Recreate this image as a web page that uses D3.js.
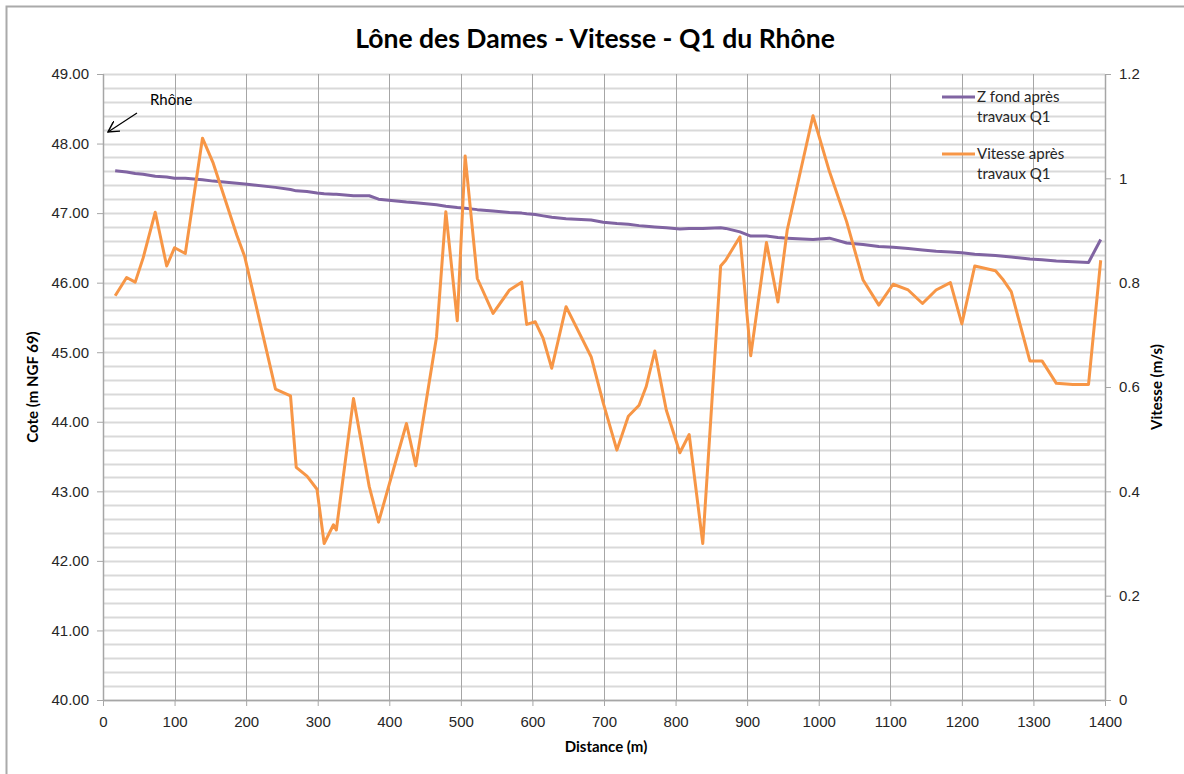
<!DOCTYPE html>
<html>
<head>
<meta charset="utf-8">
<script src="https://cdn.jsdelivr.net/npm/d3@7"></script>
<style>
  body { margin: 0; background: #fff; }
  svg { font-family: Lato, "Open Sans", sans-serif; }
</style>
</head>
<body>
<div id="container"></div>
<script>
// distances (m) along the profile
const distance = [17, 33, 45, 56, 73, 89, 100, 115, 139, 154, 187, 198, 241, 262, 270, 285, 299, 309, 322, 326,
    350, 372, 385, 424, 437, 466, 479, 495, 506, 523, 545, 568, 585, 592, 604, 615, 627, 647, 682, 699,
    718, 734, 749, 759, 771, 787, 806, 819, 838, 863, 870, 890, 905, 927, 943, 956, 992, 1015, 1039, 1062,
    1084, 1104, 1125, 1145, 1164, 1184, 1200, 1218, 1247, 1258, 1269, 1295, 1312, 1332, 1355, 1377, 1394];

// Z fond après travaux Q1 (m NGF 69)
const zFond = [47.61, 47.59, 47.57, 47.56, 47.53, 47.52, 47.50, 47.50, 47.48, 47.46, 47.43, 47.42, 47.37, 47.34, 47.32, 47.31, 47.29, 47.28, 47.27, 47.27,
    47.25, 47.25, 47.20, 47.16, 47.15, 47.12, 47.10, 47.08, 47.07, 47.05, 47.03, 47.01, 47.00, 46.99, 46.98, 46.96, 46.94, 46.92, 46.90, 46.87,
    46.85, 46.84, 46.82, 46.81, 46.80, 46.79, 46.77, 46.78, 46.78, 46.79, 46.78, 46.73, 46.67, 46.67, 46.65, 46.64, 46.62, 46.64, 46.57, 46.55,
    46.52, 46.51, 46.49, 46.47, 46.45, 46.44, 46.43, 46.41, 46.39, 46.38, 46.37, 46.34, 46.33, 46.31, 46.30, 46.29, 46.62];

// Vitesse après travaux Q1 (m/s)
const vitesse = [0.775, 0.810, 0.801, 0.847, 0.935, 0.832, 0.867, 0.856, 1.077, 1.029, 0.891, 0.850, 0.596, 0.583, 0.446, 0.429, 0.404, 0.300, 0.336, 0.326,
    0.578, 0.409, 0.341, 0.530, 0.449, 0.696, 0.936, 0.727, 1.043, 0.808, 0.741, 0.786, 0.801, 0.720, 0.725, 0.693, 0.636, 0.754, 0.658, 0.569,
    0.479, 0.544, 0.565, 0.601, 0.669, 0.556, 0.474, 0.509, 0.300, 0.832, 0.843, 0.888, 0.660, 0.877, 0.763, 0.901, 1.120, 1.013, 0.917, 0.805,
    0.757, 0.797, 0.786, 0.760, 0.786, 0.800, 0.721, 0.832, 0.823, 0.805, 0.783, 0.650, 0.650, 0.607, 0.605, 0.605, 0.843];

const xTicks = [0, 100, 200, 300, 400, 500, 600, 700, 800, 900, 1000, 1100, 1200, 1300, 1400];
const yLeftTicks = [40, 41, 42, 43, 44, 45, 46, 47, 48, 49];
const yRightTicks = [0, 0.2, 0.4, 0.6, 0.8, 1, 1.2];

const seriesNames = [["Z fond après", "travaux Q1"], ["Vitesse après", "travaux Q1"]];
const seriesColors = ["#8064A2", "#F79646"];

const W = 1184, H = 774;
const m = { left: 103, right: 1105, top: 74, bottom: 700 };

const svg = d3.select('#container')
    .append('svg')
    .attr('width', W)
    .attr('height', H);

// outer chart border
svg.append('rect')
    .attr('x', 6.5).attr('y', 6.5)
    .attr('width', W + 20).attr('height', H + 20)
    .attr('fill', 'none')
    .attr('stroke', '#aaaaaa')
    .attr('stroke-width', 2);

const x = d3.scaleLinear().domain([0, 1400]).range([m.left, m.right]);
const yL = d3.scaleLinear().domain([40, 49]).range([m.bottom, m.top]);
const yR = d3.scaleLinear().domain([0, 1.2]).range([m.bottom, m.top]);

// horizontal minor gridlines every 0.2 m
const hGrid = d3.range(40, 49.001, 0.2);
svg.append('g')
    .selectAll('line')
    .data(hGrid)
    .enter()
    .append('line')
    .attr('x1', m.left).attr('x2', m.right)
    .attr('y1', d => Math.round(yL(d)) + 0.5)
    .attr('y2', d => Math.round(yL(d)) + 0.5)
    .attr('stroke', '#d9d9d9')
    .attr('stroke-width', 2);

// vertical gridlines
svg.append('g')
    .selectAll('line')
    .data(xTicks)
    .enter()
    .append('line')
    .attr('x1', d => Math.round(x(d)) + 0.5)
    .attr('x2', d => Math.round(x(d)) + 0.5)
    .attr('y1', m.top).attr('y2', m.bottom)
    .attr('stroke', '#a6a6a6')
    .attr('stroke-width', 1);

// axes
const styleAxis = g => {
    g.select('.domain').attr('stroke', '#a6a6a6').attr('stroke-width', 1.5);
    g.selectAll('.tick line').attr('stroke', '#a6a6a6');
    g.selectAll('.tick text').attr('fill', '#262626').style('font-size', '15px');
};

svg.append('g')
    .attr('transform', `translate(0,${m.bottom})`)
    .call(d3.axisBottom(x).tickValues(xTicks).tickFormat(d3.format('d')).tickSize(6).tickSizeOuter(0).tickPadding(10))
    .call(styleAxis);

svg.append('g')
    .attr('transform', `translate(${m.left},0)`)
    .call(d3.axisLeft(yL).tickValues(yLeftTicks).tickFormat(d3.format('.2f')).tickSize(6).tickSizeOuter(0).tickPadding(8))
    .call(styleAxis);

svg.append('g')
    .attr('transform', `translate(${m.right},0)`)
    .call(d3.axisRight(yR).tickValues(yRightTicks).tickFormat(d => d3.format('~g')(d)).tickSize(6).tickSizeOuter(0).tickPadding(8))
    .call(styleAxis);

// lines
const lineZ = d3.line()
    .x((d, i) => x(distance[i]))
    .y(d => yL(d));

const lineV = d3.line()
    .x((d, i) => x(distance[i]))
    .y(d => yR(d));

svg.append('path')
    .datum(zFond)
    .attr('d', lineZ)
    .attr('fill', 'none')
    .attr('stroke', seriesColors[0])
    .attr('stroke-width', 3)
    .attr('stroke-linejoin', 'round');

svg.append('path')
    .datum(vitesse)
    .attr('d', lineV)
    .attr('fill', 'none')
    .attr('stroke', seriesColors[1])
    .attr('stroke-width', 3)
    .attr('stroke-linejoin', 'round');

// title
const title = svg.append('text')
    .attr('x', 595).attr('y', 48)
    .attr('text-anchor', 'middle')
    .style('font-weight', 'bold')
    .style('font-size', '26px')
    .attr('fill', '#000')
    .text('Lône des Dames - Vitesse - Q1 du Rhône');
const tl = title.node().getComputedTextLength();
title.style('font-size', (26 * 480 / tl) + 'px');

// axis titles
svg.append('text')
    .attr('x', 606).attr('y', 752)
    .attr('text-anchor', 'middle')
    .style('font-weight', 'bold').style('font-size', '15px')
    .attr('fill', '#000')
    .text('Distance (m)');

svg.append('text')
    .attr('transform', 'translate(38,387) rotate(-90)')
    .attr('text-anchor', 'middle')
    .style('font-weight', 'bold').style('font-size', '15px')
    .attr('fill', '#000')
    .text('Cote (m NGF 69)');

svg.append('text')
    .attr('transform', 'translate(1162,387) rotate(-90)')
    .attr('text-anchor', 'middle')
    .style('font-weight', 'bold').style('font-size', '15px')
    .attr('fill', '#000')
    .text('Vitesse (m/s)');

// legend
const legend = svg.append('g');
seriesNames.forEach((name, i) => {
    const ly = 97 + i * 57;
    legend.append('line')
        .attr('x1', 942).attr('x2', 975)
        .attr('y1', ly).attr('y2', ly)
        .attr('stroke', seriesColors[i])
        .attr('stroke-width', 3);
    name.forEach((t, j) => {
        legend.append('text')
            .attr('x', 977).attr('y', ly + 5 + j * 20)
            .style('font-size', '15px')
            .attr('fill', '#262626')
            .text(t);
    });
});

// Rhône annotation
svg.append('defs').append('marker')
    .attr('id', 'arrow')
    .attr('viewBox', '0 0 10 10')
    .attr('refX', 9).attr('refY', 5)
    .attr('markerWidth', 10).attr('markerHeight', 10)
    .attr('orient', 'auto')
    .append('path')
    .attr('d', 'M0,0 L9,5 L0,10')
    .attr('fill', 'none')
    .attr('stroke', '#000')
    .attr('stroke-width', 1.2);

svg.append('line')
    .attr('x1', 137).attr('y1', 113)
    .attr('x2', 108).attr('y2', 132)
    .attr('stroke', '#000')
    .attr('stroke-width', 1.2)
    .attr('marker-end', 'url(#arrow)');

svg.append('text')
    .attr('x', 150).attr('y', 105)
    .style('font-size', '15px')
    .attr('fill', '#000')
    .text('Rhône');
</script>
</body>
</html>
